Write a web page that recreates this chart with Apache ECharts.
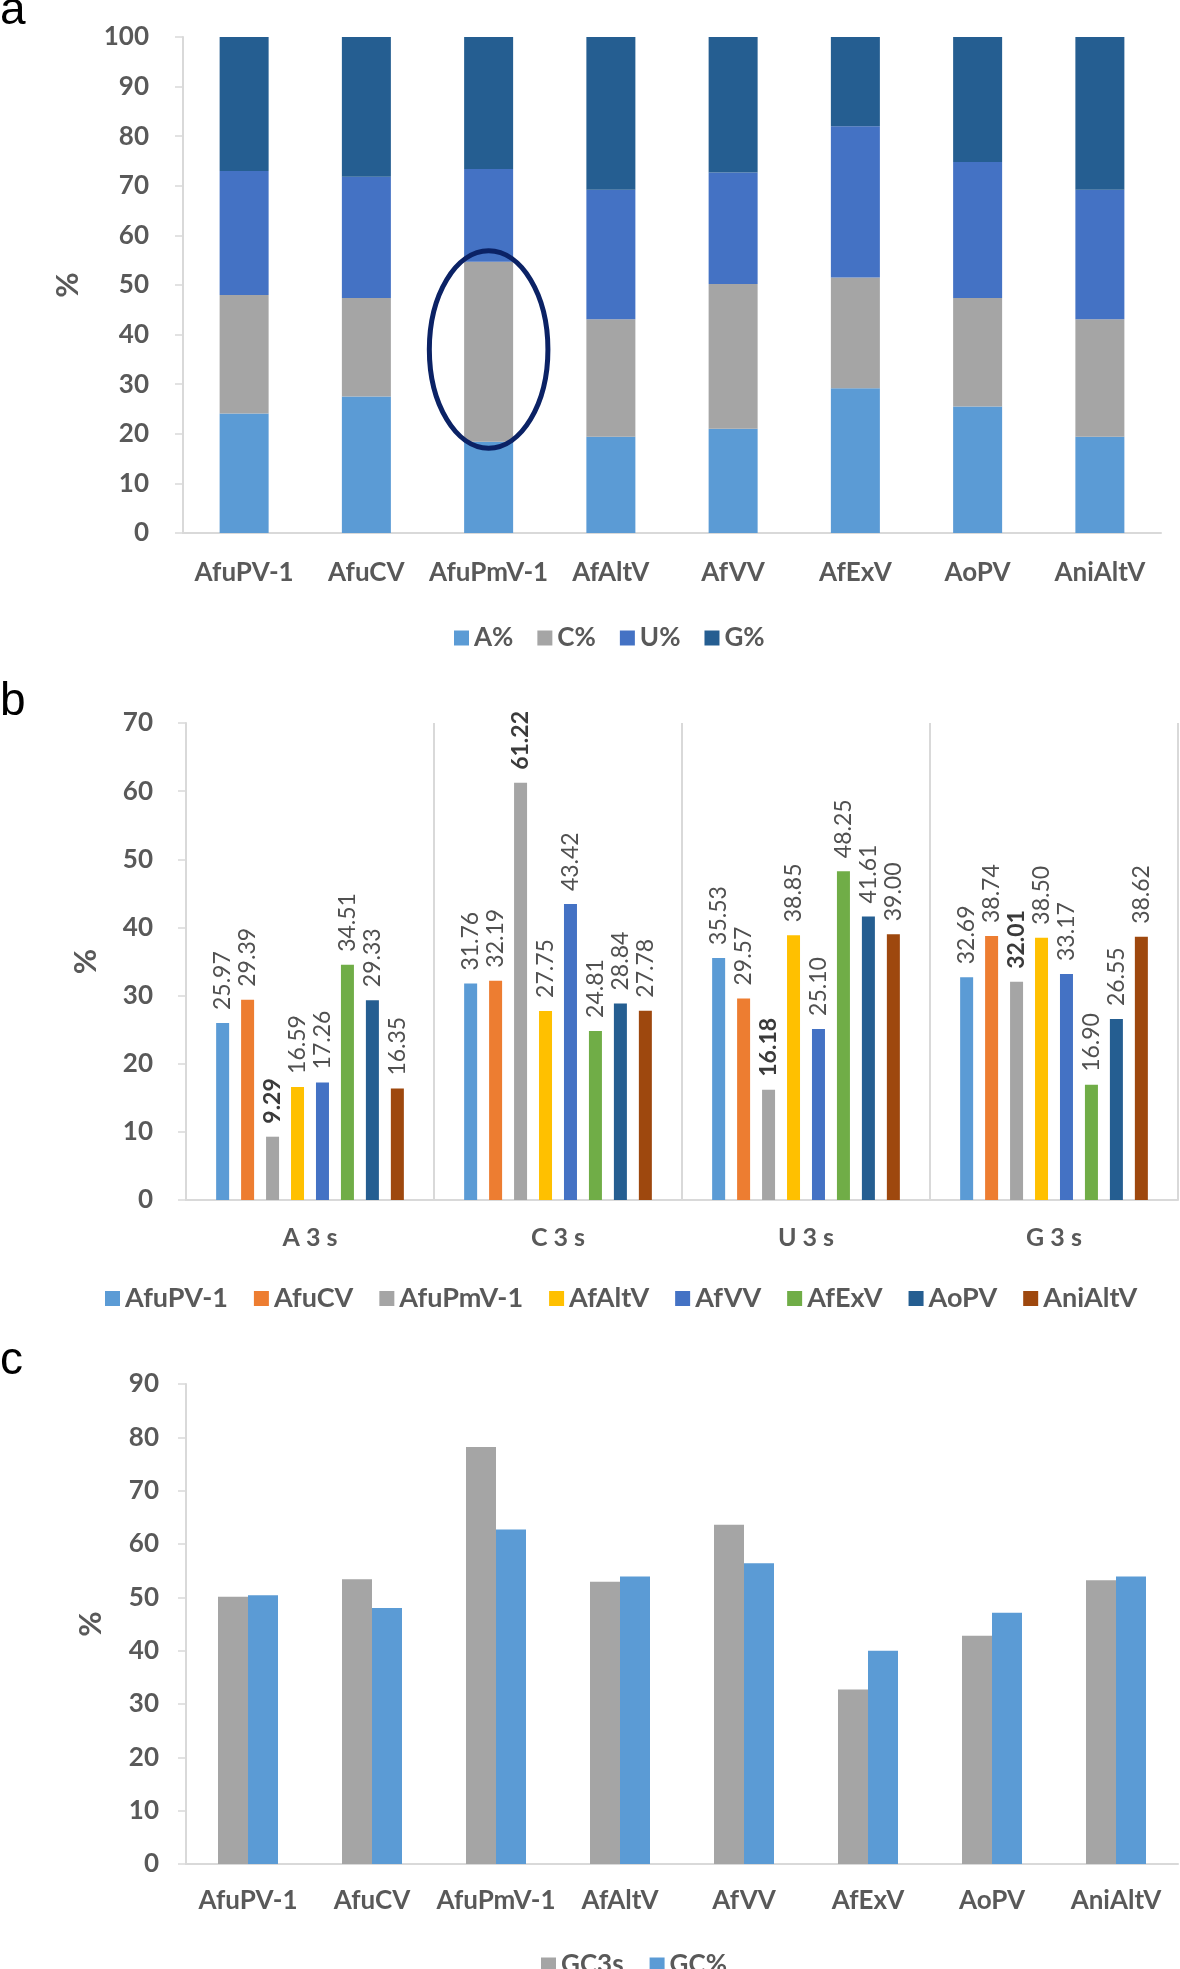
<!DOCTYPE html>
<html><head><meta charset="utf-8">
<script src="https://cdn.jsdelivr.net/npm/echarts@6/dist/echarts.min.js"></script>
<style>html,body{margin:0;padding:0;background:#fff}#c{width:1180px;height:1969px}</style>
</head><body><div id="c"></div><script>
// ---- data ----
const viruses = ['AfuPV-1','AfuCV','AfuPmV-1','AfAltV','AfVV','AfExV','AoPV','AniAltV'];
// panel a: nucleotide composition (%)
const aPct = [24.1, 27.5, 18.4, 19.4, 21.0, 29.2, 25.5, 19.4];
const cPct = [23.9, 19.9, 36.3, 23.7, 29.2, 22.3, 21.9, 23.7];
const uPct = [25.0, 24.4, 18.7, 26.1, 22.5, 30.5, 27.4, 26.1];
const gPct = [27.0, 28.2, 26.6, 30.8, 27.3, 18.0, 25.2, 30.8];
// panel b: third-position composition
const positions = ['A 3 s','C 3 s','U 3 s','G 3 s'];
const b_AfuPV1  = [25.97, 31.76, 35.53, 32.69];
const b_AfuCV   = [29.39, 32.19, 29.57, 38.74];
const b_AfuPmV1 = [9.29, 61.22, 16.18, 32.01];
const b_AfAltV  = [16.59, 27.75, 38.85, 38.50];
const b_AfVV    = [17.26, 43.42, 25.10, 33.17];
const b_AfExV   = [34.51, 24.81, 48.25, 16.90];
const b_AoPV    = [29.33, 28.84, 41.61, 26.55];
const b_AniAltV = [16.35, 27.78, 39.00, 38.62];
// panel c
const gc3s  = [50.1, 53.4, 78.2, 52.9, 63.6, 32.7, 42.8, 53.2];
const gcPct = [50.4, 48.0, 62.7, 53.9, 56.4, 40.0, 47.1, 53.9];
// axis ticks
const yTicksA = {min:0, max:100, interval:10};
const yTicksB = {min:0, max:70, interval:10};
const yTicksC = {min:0, max:90, interval:10};

// ---- style ----
const F = 'Lato';
const axisGray = '#D9D9D9';
const txtGray = '#595959';
const bColors = ['#5B9BD5','#ED7D31','#A5A5A5','#FFC000','#4472C4','#70AD47','#255E91','#9E480E'];
const bSeriesData = [b_AfuPV1,b_AfuCV,b_AfuPmV1,b_AfAltV,b_AfVV,b_AfExV,b_AoPV,b_AniAltV];

const chart = echarts.init(document.getElementById('c'), null, {renderer:'canvas'});

function xAx(idx, data, extra){
  return Object.assign({
    type:'category', gridIndex:idx, data:data,
    axisLine:{show:true, lineStyle:{color:axisGray, width:2}},
    axisTick:{show:false},
    axisLabel:{interval:0, color:txtGray, fontFamily:F, fontWeight:'bold', fontSize:26, margin:27},
    splitLine:{show:false}
  }, extra||{});
}
function yAx(idx, t, labelSize, margin, nameGap){
  return {
    type:'value', gridIndex:idx, min:t.min, max:t.max, interval:t.interval,
    axisLine:{show:true, lineStyle:{color:axisGray, width:2}},
    axisTick:{show:true, length:8, lineStyle:{color:axisGray, width:1.5}},
    axisLabel:{color:txtGray, fontFamily:F, fontWeight:'bold', fontSize:labelSize, margin:margin},
    splitLine:{show:false},
    name:'%', nameLocation:'middle', nameRotate:90, nameGap:nameGap,
    nameTextStyle:{color:txtGray, fontFamily:F, fontWeight:'bold', fontSize:31}
  };
}

const series = [];
[['A%',aPct,'#5B9BD5'],['C%',cPct,'#A5A5A5'],['U%',uPct,'#4472C4'],['G%',gPct,'#255E91']].forEach(s=>{
  series.push({name:s[0], type:'bar', stack:'nuc', xAxisIndex:0, yAxisIndex:0, data:s[1],
    barWidth:49, itemStyle:{color:s[2]}});
});
viruses.forEach((v,i)=>{
  const bold = (v==='AfuPmV-1');
  series.push({name:v, type:'bar', xAxisIndex:1, yAxisIndex:1, data:bSeriesData[i],
    barWidth:13, barGap:'92%', itemStyle:{color:bColors[i]},
    label:{show:true, position:'top', rotate:90, align:'left', verticalAlign:'middle', distance:13,
      fontFamily:F, fontSize:23, fontWeight: bold?'bold':'normal', color: bold?'#3a3a3a':'#505050',
      formatter:p=>Number(p.value).toFixed(2)}});
});
series.push({name:'GC3s', type:'bar', xAxisIndex:2, yAxisIndex:2, data:gc3s, barWidth:30, barGap:'0%', itemStyle:{color:'#A5A5A5'}});
series.push({name:'GC%', type:'bar', xAxisIndex:2, yAxisIndex:2, data:gcPct, barWidth:30, barGap:'0%', itemStyle:{color:'#5B9BD5'}});

const legendText = {color:txtGray, fontFamily:F, fontWeight:'bold', fontSize:26};
const option = {
  animation:false,
  backgroundColor:'#fff',
  grid:[
    {left:183, top:37, width:978, height:496},
    {left:186, top:723, width:992, height:477},
    {left:186, top:1384, width:992, height:480}
  ],
  xAxis:[
    xAx(0, viruses),
    xAx(1, positions, {axisLabel:{interval:0, color:txtGray, fontFamily:F, fontWeight:'bold', fontSize:25, margin:25},
                       splitLine:{show:true, interval:0, lineStyle:{color:axisGray, width:2}}}),
    xAx(2, viruses, {axisLabel:{interval:0, color:txtGray, fontFamily:F, fontWeight:'bold', fontSize:26, margin:24}})
  ],
  yAxis:[
    yAx(0, yTicksA, 26, 34, 100),
    yAx(1, yTicksB, 26, 33, 85),
    yAx(2, yTicksC, 26, 27, 80)
  ],
  legend:[
    {data:['A%','C%','U%','G%'], left:449, top:620, icon:'rect', itemWidth:15, itemHeight:15, itemGap:24, textStyle:legendText, selectedMode:false},
    {data:viruses, left:100, top:1280, icon:'rect', itemWidth:15, itemHeight:15, itemGap:26, textStyle:Object.assign({}, legendText, {fontSize:27}), selectedMode:false},
    {data:['GC3s','GC%'], left:536, top:1947, icon:'rect', itemWidth:15, itemHeight:15, itemGap:26, textStyle:legendText, selectedMode:false}
  ],
  series:series
};
chart.setOption(option);

// panel letters and the highlight ellipse around AfuPmV-1 (placed through the axes)
const ellC = chart.convertToPixel({xAxisIndex:0, yAxisIndex:0}, ['AfuPmV-1', 37]);
const ellT = chart.convertToPixel({xAxisIndex:0, yAxisIndex:0}, ['AfuPmV-1', 56.9]);
const catW = 978/viruses.length;
const letterFont = '46px "Liberation Sans", Arial, sans-serif';
chart.setOption({
  graphic:[
    {type:'text', style:{x:0, y:11, text:'a', font:letterFont, fill:'#000', textVerticalAlign:'middle'}},
    {type:'text', style:{x:0, y:702, text:'b', font:letterFont, fill:'#000', textVerticalAlign:'middle'}},
    {type:'text', style:{x:0, y:1361, text:'c', font:letterFont, fill:'#000', textVerticalAlign:'middle'}},
    {type:'ellipse', shape:{cx:ellC[0], cy:ellC[1], rx:catW*0.485, ry:ellC[1]-ellT[1]},
     style:{fill:'none', stroke:'#0B2265', lineWidth:5}, z:100}
  ]
});
</script></body></html>
